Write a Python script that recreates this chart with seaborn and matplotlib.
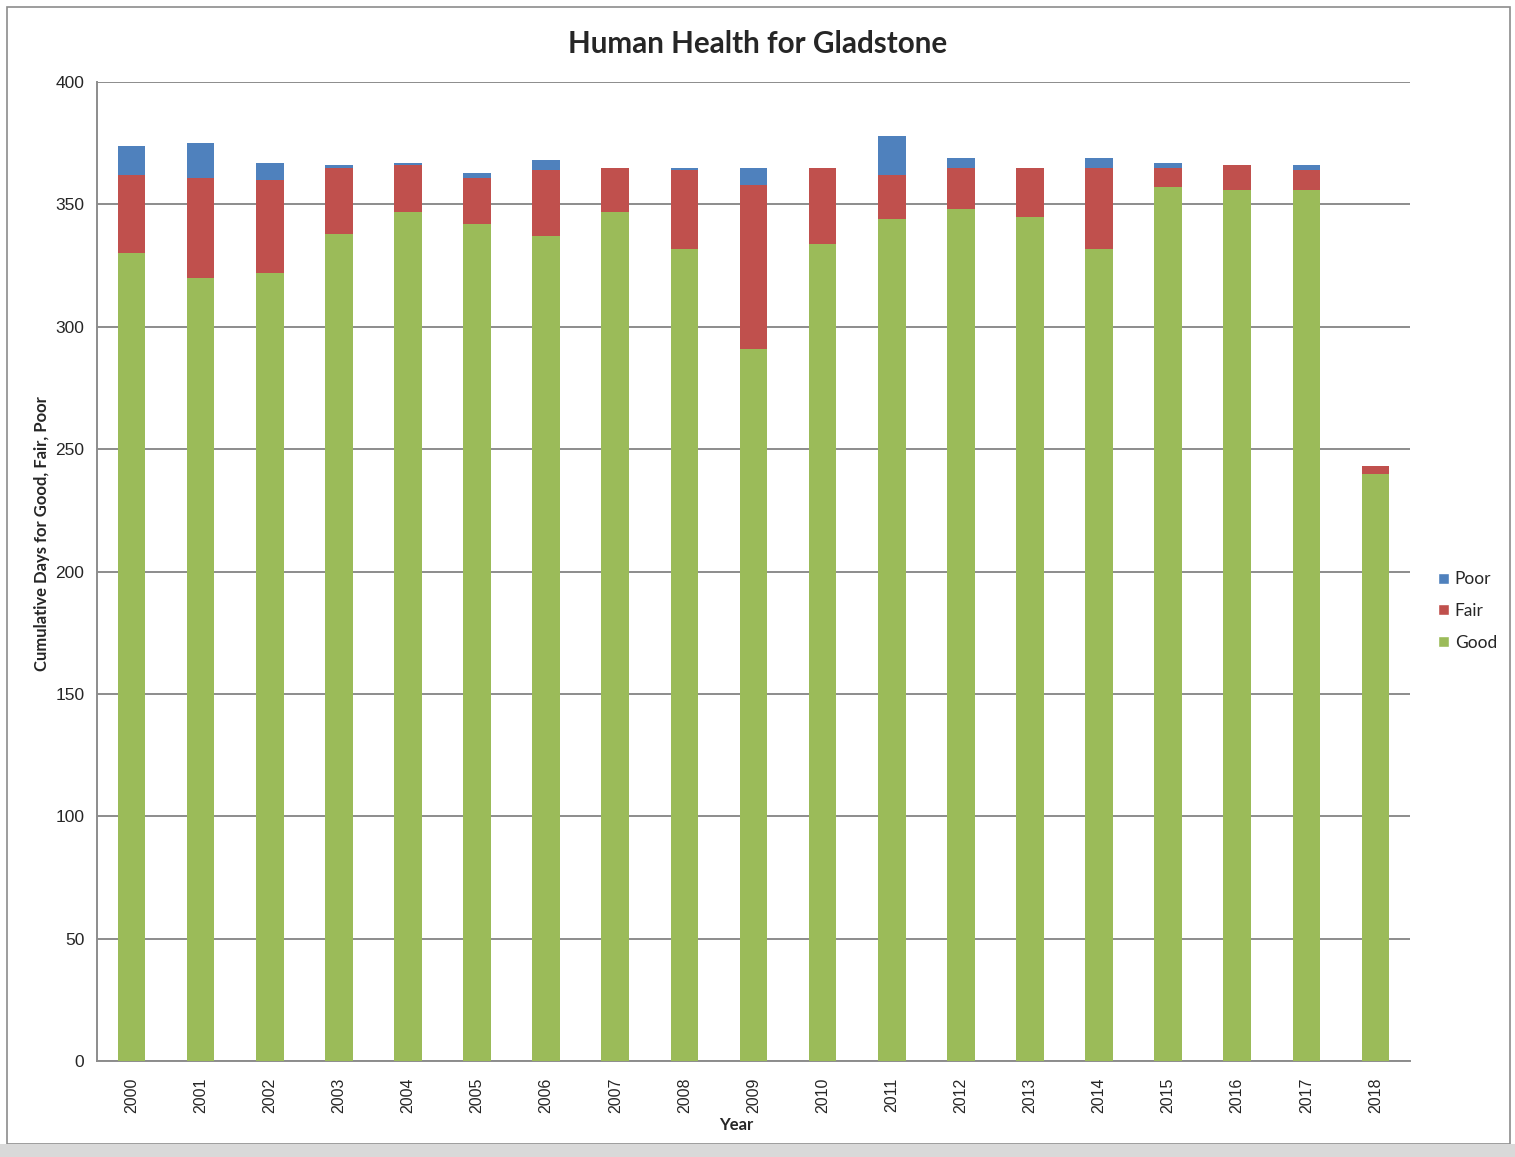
import numpy as np
import pandas as pd
import matplotlib
matplotlib.use("Agg")
from matplotlib import pyplot as plt
from matplotlib.patches import Rectangle, Patch
import seaborn as sns

years = [str(y) for y in range(2000, 2019)]
good = [330, 320, 322, 338, 347, 342, 337, 347, 332, 291, 334, 344, 348, 345, 332, 357, 356, 356, 240]
fair = [32, 41, 38, 27, 19, 19, 27, 18, 32, 67, 31, 18, 17, 20, 33, 8, 10, 8, 3]
poor = [12, 14, 7, 1, 1, 2, 4, 0, 1, 7, 0, 16, 4, 0, 4, 2, 0, 2, 0]

df = pd.DataFrame({"Year": years, "Good": good, "Fair": fair, "Poor": poor})
colors = {"Good": "#9BBB59", "Fair": "#C0504D", "Poor": "#4F81BD"}

sns.set_style("white")
plt.rcParams['font.family'] = ['Liberation Sans', 'DejaVu Sans']
lato = ["Lato", "DejaVu Sans"]

fig = plt.figure(figsize=(15.15, 11.57), dpi=100)
ax = fig.add_axes([0.064, 0.083, 0.8667, 0.846])

# stacked bars: Good at bottom, then Fair, then Poor
bottom = np.zeros(len(years))
for name in ["Good", "Fair", "Poor"]:
    sns.barplot(data=df, x="Year", y=name, color=colors[name], width=0.4,
                bottom=bottom, errorbar=None, saturation=1, ax=ax,
                edgecolor="none", linewidth=0, zorder=3)
    bottom = bottom + df[name].values

ax.set_ylim(0, 400)
ax.set_xlim(-0.5, len(years) - 0.5)
ax.set_yticks(range(0, 401, 50))
ax.yaxis.grid(True, color="#8c8c8c", linewidth=1.4, zorder=0)
ax.set_axisbelow(True)

for s in ["top", "right"]:
    ax.spines[s].set_visible(False)
for s in ["left", "bottom"]:
    ax.spines[s].set_color("#8c8c8c")
    ax.spines[s].set_linewidth(1.4)

ax.set_xticks(range(len(years)))
ax.set_xticklabels(years, rotation=90, fontsize=11.5)
ax.tick_params(axis="x", length=0, pad=12)
ax.set_xticks(np.arange(-0.5, len(years)), minor=True)
ax.tick_params(axis="x", which="minor", length=6, color="#8c8c8c", width=1.4, direction="out")
ax.tick_params(axis="y", length=6, color="#8c8c8c", width=1.4, direction="out", labelsize=12.5, pad=3)

ax.set_xlabel("Year", fontsize=12, fontweight="bold", family=lato)
ax.xaxis.set_label_coords(0.487, -0.057)
ax.set_ylabel("Cumulative Days for Good, Fair, Poor", fontsize=12, fontweight="bold", family=lato)
ax.yaxis.set_label_coords(-0.036, 0.539)

fig.suptitle("Human Health for Gladstone", x=0.5, y=0.974, fontsize=21.3, fontweight="bold",
             family=lato)

handles = [Patch(facecolor=colors[n], label=n) for n in ["Poor", "Fair", "Good"]]
fig.legend(handles=handles, loc="center left", bbox_to_anchor=(0.939, 0.472), frameon=False,
           handlelength=0.6, handleheight=0.6, handletextpad=0.35,
           labelspacing=0.9, prop={"family": lato, "size": 12.5})

# outer chart frame and bottom band
fig.patches.append(Rectangle((0.0045, 0.011), 0.992, 0.983, transform=fig.transFigure,
                             fill=False, edgecolor="#8c8c8c", linewidth=1.2))
fig.patches.append(Rectangle((0, 0), 1, 0.011, transform=fig.transFigure,
                             facecolor="#d9d9d9", edgecolor="none"))

fig.savefig("out.png", dpi=100)
